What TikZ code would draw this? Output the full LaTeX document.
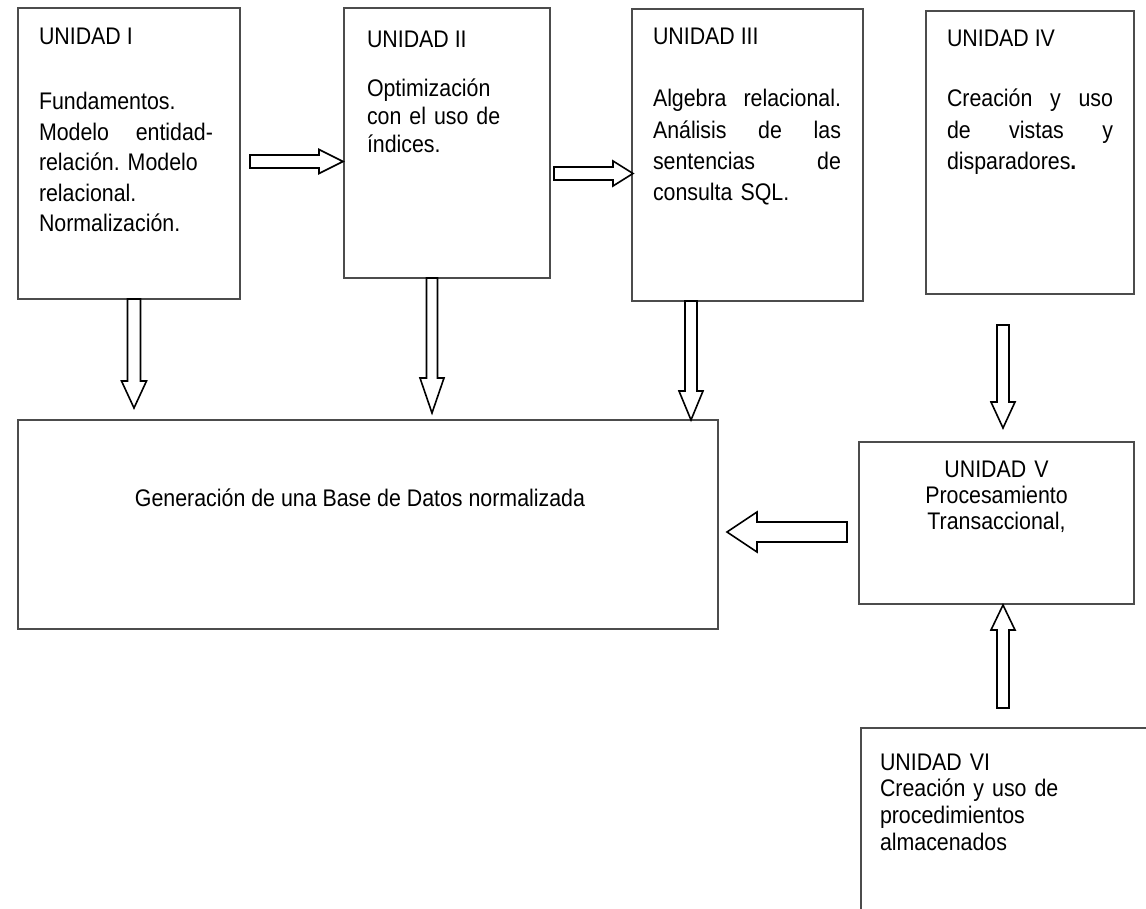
\documentclass[tikz,border=0pt]{standalone}
\usepackage{fontspec}
\setmainfont{Liberation Sans}[FakeStretch=0.89]
\frenchspacing
\usetikzlibrary{calc}
\tikzset{
  box/.style={draw=black!70, line width=1.1pt, inner sep=0pt, outer sep=0pt, anchor=north west},
  txt/.style={inner sep=0pt, outer sep=0pt, text=black, font=\fontsize{24pt}{30.5pt}\selectfont},
  ashaft/.store in=\arrShaft, ahead/.store in=\arrHead, alen/.store in=\arrLen,
  ashaft=6pt, ahead=12pt, alen=26pt,
  blk/.style={draw=black, line width=1.6pt, fill=white, line join=miter},
  rarrow/.style={blk, to path={let \p1=(\tikztostart), \p2=(\tikztotarget) in
    (\x1,\y1+\arrShaft) -- (\x2-\arrLen,\y1+\arrShaft) -- (\x2-\arrLen,\y1+\arrHead) -- (\x2,\y1)
    -- (\x2-\arrLen,\y1-\arrHead) -- (\x2-\arrLen,\y1-\arrShaft) -- (\x1,\y1-\arrShaft) -- cycle}},
  larrow/.style={blk, to path={let \p1=(\tikztostart), \p2=(\tikztotarget) in
    (\x1,\y1+\arrShaft) -- (\x2+\arrLen,\y1+\arrShaft) -- (\x2+\arrLen,\y1+\arrHead) -- (\x2,\y1)
    -- (\x2+\arrLen,\y1-\arrHead) -- (\x2+\arrLen,\y1-\arrShaft) -- (\x1,\y1-\arrShaft) -- cycle}},
  darrow/.style={blk, to path={let \p1=(\tikztostart), \p2=(\tikztotarget) in
    (\x1-\arrShaft,\y1) -- (\x1-\arrShaft,\y2+\arrLen) -- (\x1-\arrHead,\y2+\arrLen) -- (\x2,\y2)
    -- (\x1+\arrHead,\y2+\arrLen) -- (\x1+\arrShaft,\y2+\arrLen) -- (\x1+\arrShaft,\y1) -- cycle}},
  uarrow/.style={blk, to path={let \p1=(\tikztostart), \p2=(\tikztotarget) in
    (\x1-\arrShaft,\y1) -- (\x1-\arrShaft,\y2-\arrLen) -- (\x1-\arrHead,\y2-\arrLen) -- (\x2,\y2)
    -- (\x1+\arrHead,\y2-\arrLen) -- (\x1+\arrShaft,\y2-\arrLen) -- (\x1+\arrShaft,\y1) -- cycle}},
}
\begin{document}
\begin{tikzpicture}[x=1pt, y=-1pt]
\path[use as bounding box, fill=white] (0,0) rectangle (1146,909);

% boxes
\node[box, minimum width=222pt, minimum height=291pt] (u1) at (18,8) {};
\node[box, minimum width=206pt, minimum height=270pt] (u2) at (344,8) {};
\node[box, minimum width=231pt, minimum height=292pt] (u3) at (632,9) {};
\node[box, minimum width=208pt, minimum height=283pt] (u4) at (926,11) {};
\node[box, minimum width=700pt, minimum height=209pt] (gen) at (18,420) {};
\node[box, minimum width=275pt, minimum height=162pt] (u5) at (859,442) {};
\node[box, minimum width=300pt, minimum height=200pt] (u6) at (861,728) {};

% texts
\node[txt, anchor=base west] (t1) at (39,45) {UNIDAD I};
\node[txt, anchor=base west, text width=174pt, align=left] (b1) at (39,110)
  {Fundamentos.\\ Modelo\hfill entidad-\\ relación. Modelo\\ relacional.\\ Normalización.};
\node[txt, anchor=base west] (t2) at (367,48) {UNIDAD II};
\node[txt, anchor=base west, text width=170pt, align=left, font=\fontsize{24pt}{28pt}\selectfont] (b2) at (367,97)
  {Optimización\\ con el uso de\\ índices.};
\node[txt, anchor=base west] (t3) at (653,45) {UNIDAD III};
\node[txt, anchor=base west, text width=188pt, align=left, font=\fontsize{24pt}{31.3pt}\selectfont] (b3) at (653,107)
  {Algebra\hfill relacional.\\ Análisis\hfill de\hfill las\\ sentencias\hfill de\\ consulta SQL.};
\node[txt, anchor=base west] (t4) at (947,47) {UNIDAD IV};
\node[txt, anchor=base west, text width=166pt, align=left, font=\fontsize{24pt}{31.5pt}\selectfont] (b4) at (947,107)
  {Creación\hfill y\hfill uso\\ de\hfill vistas\hfill y\\ disparadores{\bfseries .}};
\node[txt, anchor=base] (g) at (360,506) {Generación de una Base de Datos normalizada};
\node[txt, anchor=base, text width=270pt, align=center, font=\fontsize{24pt}{26pt}\selectfont] (b5) at (996.5,477)
  {UNIDAD V\\ Procesamiento\\ Transaccional,};
\node[txt, anchor=base west, text width=240pt, align=left, font=\fontsize{24pt}{26.7pt}\selectfont] (b6) at (880,770)
  {UNIDAD VI\\ Creación y uso de\\ procedimientos\\ almacenados};

% arrow end points
\coordinate (a12s) at (250,161.5);  \coordinate (a12e) at (343,161.5);
\coordinate (a23s) at (554,173.5);  \coordinate (a23e) at (633,173.5);
\coordinate (a1s) at (134,299);     \coordinate (a1e) at (134,408);
\coordinate (a2s) at (432,278);     \coordinate (a2e) at (432,413);
\coordinate (a3s) at (691,301);     \coordinate (a3e) at (691,420);
\coordinate (a4s) at (1003,325);    \coordinate (a4e) at (1003,428);
\coordinate (a5s) at (847,532);     \coordinate (a5e) at (727,532);
\coordinate (a6s) at (1003,708);    \coordinate (a6e) at (1003,605);

% block arrows
\draw[rarrow, ashaft=6.5pt, ahead=12pt, alen=24pt] (a12s) to (a12e);
\draw[rarrow, ashaft=6.5pt, ahead=12.5pt, alen=20pt] (a23s) to (a23e);
\draw[darrow, ashaft=6.5pt, ahead=12.5pt, alen=27pt] (a1s) to (a1e);
\draw[darrow, ashaft=5.5pt, ahead=12pt, alen=35pt] (a2s) to (a2e);
\draw[darrow, ashaft=6pt, ahead=12pt, alen=29pt] (a3s) to (a3e);
\draw[darrow, ashaft=6pt, ahead=12pt, alen=26pt] (a4s) to (a4e);
\draw[larrow, ashaft=10pt, ahead=20pt, alen=30pt] (a5s) to (a5e);
\draw[uarrow, ashaft=6pt, ahead=12pt, alen=25pt] (a6s) to (a6e);
\end{tikzpicture}
\end{document}
